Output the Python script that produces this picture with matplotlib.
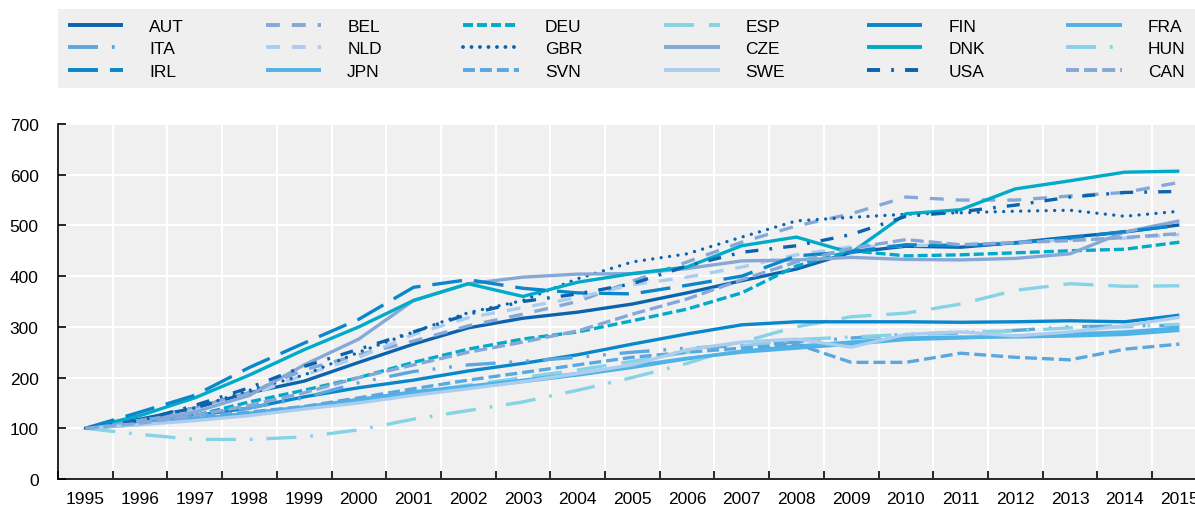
import matplotlib
matplotlib.use("Agg")
import matplotlib.pyplot as plt
from matplotlib.lines import Line2D
import numpy as np

plt.rcParams['font.family'] = ['Liberation Sans', 'DejaVu Sans']
plt.rcParams['lines.scale_dashes'] = False

years = list(range(1995, 2016))

AUT = [100, 118, 140, 170, 193, 230, 266, 298, 317, 329, 345, 367, 391, 414, 447, 459, 457, 466, 477, 487, 501]
BEL = [100, 115, 140, 170, 215, 245, 272, 302, 325, 350, 390, 428, 467, 499, 523, 556, 550, 550, 558, 565, 585]
DEU = [100, 110, 125, 152, 175, 200, 230, 256, 276, 290, 312, 335, 367, 420, 450, 440, 442, 446, 450, 453, 467]
ESP = [100, 108, 118, 130, 142, 155, 170, 185, 200, 215, 232, 250, 270, 300, 320, 327, 345, 372, 385, 380, 381]
FIN = [100, 112, 125, 140, 162, 180, 195, 213, 228, 245, 266, 286, 304, 310, 310, 310, 309, 310, 312, 310, 323]
FRA = [100, 110, 118, 128, 140, 155, 170, 180, 192, 205, 220, 237, 252, 262, 270, 278, 280, 280, 282, 285, 293]
ITA = [100, 110, 125, 140, 160, 190, 212, 225, 232, 240, 250, 258, 263, 270, 278, 285, 288, 293, 300, 302, 303]
NLD = [100, 115, 135, 165, 205, 240, 285, 318, 338, 358, 383, 398, 418, 442, 458, 460, 462, 466, 472, 475, 482]
GBR = [100, 115, 140, 175, 205, 250, 290, 328, 352, 395, 428, 444, 477, 509, 516, 522, 525, 528, 530, 518, 528]
CZE = [100, 115, 132, 165, 225, 276, 352, 385, 398, 404, 405, 415, 430, 432, 437, 433, 432, 435, 444, 487, 509]
DNK = [100, 125, 160, 205, 255, 300, 352, 385, 360, 388, 405, 418, 460, 477, 446, 523, 531, 572, 588, 605, 607]
HUN = [100, 88, 78, 78, 83, 97, 118, 135, 152, 175, 200, 228, 262, 275, 280, 285, 290, 292, 298, 300, 305]
IRL = [100, 132, 165, 220, 268, 315, 378, 393, 376, 367, 365, 382, 400, 440, 448, 462, 460, 465, 475, 488, 500]
JPN = [100, 108, 118, 130, 142, 157, 172, 183, 195, 208, 223, 238, 250, 258, 266, 275, 278, 282, 286, 290, 298]
SVN = [100, 108, 122, 132, 143, 160, 178, 195, 210, 225, 240, 250, 258, 266, 230, 230, 248, 240, 235, 256, 266]
SWE = [100, 107, 115, 125, 138, 150, 165, 178, 192, 208, 225, 255, 270, 276, 260, 285, 290, 282, 290, 302, 319]
USA = [100, 115, 145, 180, 222, 256, 290, 325, 350, 365, 385, 420, 447, 460, 482, 518, 527, 540, 556, 565, 567]
CAN = [100, 110, 125, 145, 170, 200, 225, 250, 270, 292, 325, 355, 393, 428, 455, 472, 462, 466, 470, 476, 484]

# legend order (row-major as displayed)
names = ["AUT", "BEL", "DEU", "ESP", "FIN", "FRA",
         "ITA", "NLD", "GBR", "CZE", "DNK", "HUN",
         "IRL", "JPN", "SVN", "SWE", "USA", "CAN"]
data = dict(AUT=AUT, BEL=BEL, DEU=DEU, ESP=ESP, FIN=FIN, FRA=FRA, ITA=ITA, NLD=NLD,
            GBR=GBR, CZE=CZE, DNK=DNK, HUN=HUN, IRL=IRL, JPN=JPN, SVN=SVN, SWE=SWE,
            USA=USA, CAN=CAN)

dark = '#0b63ae'
med = '#0a86cc'
itab = '#5aa8df'
sky = '#4fb3e8'
lav = '#86a8d8'
pale = '#adcdef'
teal = '#00aac9'
cyan = '#86d3e6'

styles = {
    "AUT": (dark, None, 'butt'),
    "BEL": (lav, (10, 8.6), 'butt'),
    "DEU": (teal, (7.2, 2.9), 'butt'),
    "ESP": (cyan, (21.6, 10.8), 'butt'),
    "FIN": (med, None, 'butt'),
    "FRA": (sky, None, 'butt'),
    "ITA": (itab, (21.6, 10.0, 2.0, 10.0, 2.0, 10.0), 'butt'),
    "NLD": (pale, (10, 8.6), 'butt'),
    "GBR": (dark, (0.01, 6.1), 'round'),
    "CZE": (lav, None, 'butt'),
    "DNK": (teal, None, 'butt'),
    "HUN": (cyan, (21.6, 10.0, 2.0, 10.0), 'butt'),
    "IRL": (med, (21.6, 8.6), 'butt'),
    "JPN": (sky, None, 'butt'),
    "SVN": (itab, (8.6, 3.6), 'butt'),
    "SWE": (pale, None, 'butt'),
    "USA": (dark, (9.4, 8.0, 2.0, 8.0), 'butt'),
    "CAN": (lav, (9.4, 3.6), 'butt'),
}

W, H = 1195, 506
fig = plt.figure(figsize=(W / 100, H / 100), dpi=100)
band = 54.7
ax = fig.add_axes([58 / W, 26 / H, 21 * band / W, 355 / H])
ax.set_facecolor('#f0f0f0')

x = np.arange(len(years))
lw = 2.4
for nm in names:
    color, dashes, cap = styles[nm]
    kw = dict(color=color, lw=lw, solid_capstyle='butt', dash_capstyle=cap)
    ls = '-' if dashes is None else (0, dashes)
    ax.plot(x, data[nm], linestyle=ls, **kw)

ax.set_xlim(-0.5, len(years) - 0.5)
ax.set_ylim(0, 700)
ax.set_xticks(x)
ax.set_xticklabels([str(y) for y in years])
ax.set_xticks(np.arange(-0.5, len(years), 1.0), minor=True)
ax.set_yticks(np.arange(0, 701, 100))
ax.tick_params(axis='x', which='major', length=0, pad=9, labelsize=12.5)
ax.tick_params(axis='x', which='minor', length=6, direction='in', width=1.2)
ax.tick_params(axis='y', which='major', length=6, direction='in', width=1.2, pad=14, labelsize=12.5)
ax.grid(True, axis='x', which='minor', color='white', lw=1.5)
ax.grid(True, axis='y', which='major', color='white', lw=1.5)
ax.set_axisbelow(True)
for s in ['top', 'right']:
    ax.spines[s].set_visible(False)
for s in ['left', 'bottom']:
    ax.spines[s].set_linewidth(1.2)
    ax.spines[s].set_color('black')

# legend: matplotlib fills column-major; reorder to show row-major
order = [names[r * 6 + c] for c in range(6) for r in range(3)]
leg_h = []
for nm in order:
    color, dashes, cap = styles[nm]
    ls = '-' if dashes is None else (0, dashes)
    leg_h.append(Line2D([0], [0], color=color, lw=2.8, linestyle=ls,
                        solid_capstyle='butt', dash_capstyle=cap))
fig.legend(leg_h, order, ncol=6, loc='upper left',
           bbox_to_anchor=(58 / W, (H - 97) / H, (W - 58) / W, 87 / H),
           mode='expand', frameon=True, fancybox=False, facecolor='#efefef',
           edgecolor='none', framealpha=1, handlelength=3.2, handletextpad=1.5,
           labelspacing=0.42, borderpad=0.55, borderaxespad=0, fontsize=12.5)

fig.savefig('out.png', dpi=100)
